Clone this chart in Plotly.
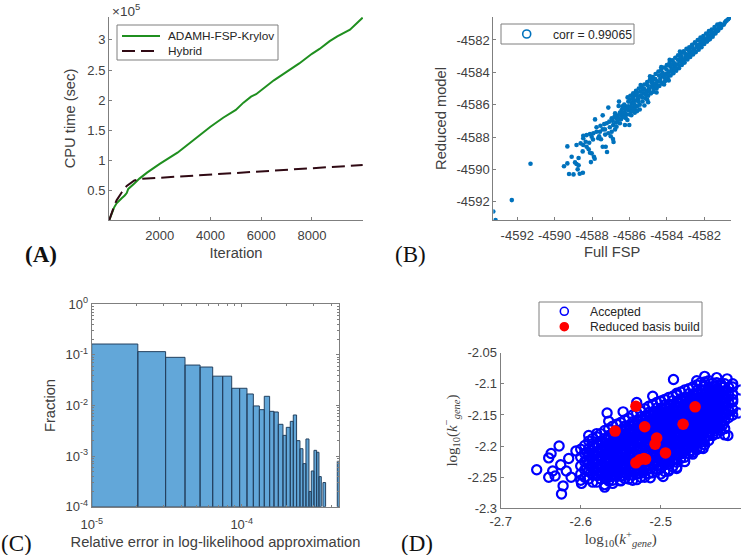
import plotly.graph_objects as go

W, H = 750, 555
# ---------- Panel A ----------
iter_green = [1, 60, 130, 200, 300, 400, 500, 620, 700, 760, 850, 1000, 1200, 1500, 2000, 2400, 2700, 3000, 3500, 4000, 4500, 5000, 5300, 5600, 5800, 6000, 6500, 7000, 7500, 8000, 8300, 8700, 9000, 9500, 10000]
cpu_green = [0.0, 0.07, 0.15, 0.22, 0.29, 0.34, 0.375, 0.42, 0.46, 0.53, 0.57, 0.62, 0.70, 0.80, 0.945, 1.05, 1.13, 1.23, 1.40, 1.56, 1.71, 1.84, 1.96, 2.06, 2.10, 2.17, 2.33, 2.47, 2.61, 2.77, 2.85, 2.98, 3.06, 3.17, 3.37]
iter_hybrid = [1, 80, 200, 300, 400, 500, 700, 1000, 1250, 2000, 3000, 4000, 5000, 6000, 7000, 8000, 9000, 10000]
cpu_hybrid = [0.0, 0.10, 0.24, 0.34, 0.41, 0.47, 0.58, 0.67, 0.695, 0.715, 0.74, 0.765, 0.79, 0.815, 0.84, 0.87, 0.895, 0.925]
a_xticks = [2000, 4000, 6000, 8000]
a_yticks = [0.5, 1, 1.5, 2, 2.5, 3]
a_yticklabels = ["0.5", "1", "1.5", "2", "2.5", "3"]

# ---------- Panel B ----------
fsp_reduced_pairs = [
 (-4593.28,-4592.6),(-4593.16,-4593.13),(-4592.29,-4591.9),(-4591.29,-4589.65),
 (-4589.32,-4588.58),(-4589.50,-4589.81),(-4589.32,-4589.63),(-4589.23,-4590.29),(-4588.99,-4590.31),(-4588.66,-4590.27),(-4588.49,-4590.21),
 (-4589.09,-4589.22),(-4588.91,-4589.57),(-4588.83,-4589.67),(-4588.72,-4589.75),(-4588.77,-4590.00),(-4588.72,-4589.30),(-4588.50,-4588.89),
 (-4588.47,-4588.49),(-4588.61,-4588.39),(-4588.83,-4588.49),(-4588.29,-4588.60),(-4588.15,-4588.35),(-4588.18,-4588.76),(-4588.11,-4588.97),
 (-4588.02,-4589.01),(-4588.06,-4589.55),(-4587.90,-4589.22),(-4587.86,-4589.34),(-4588.34,-4588.29),(-4588.47,-4587.92),(-4588.29,-4587.88),
 (-4588.11,-4587.81),(-4587.93,-4587.77),(-4587.76,-4587.67),(-4587.58,-4587.67),(-4587.43,-4587.53),(-4587.84,-4586.91),(-4587.43,-4586.66),
 (-4587.13,-4586.18),(-4586.56,-4585.81),(-4586.58,-4586.08),(-4587.52,-4588.14),(-4587.43,-4588.60),(-4587.27,-4588.60),(-4587.20,-4588.93),
 (-4586.88,-4588.12),(-4586.85,-4588.31),(-4587.13,-4587.77),(-4586.95,-4587.67),(-4587.31,-4587.53),(-4587.22,-4587.15),(-4587.08,-4587.05),
 (-4586.95,-4586.84),(-4586.77,-4586.54),(-4586.51,-4586.49),(-4586.42,-4586.33),(-4586.69,-4587.36),(-4586.51,-4587.15),(-4586.24,-4587.26),
 (-4586.01,-4587.26),(-4586.11,-4586.95),(-4586.33,-4586.74),(-4586.87,-4587.26),(-4586.60,-4586.84),(-4586.33,-4586.54),(-4586.06,-4586.33),
 (-4585.80,-4586.23),(-4585.88,-4585.92),(-4586.06,-4585.81),(-4585.62,-4586.12),(-4585.53,-4585.71),(-4585.80,-4585.50),(-4587.76,-4587.40),
 (-4588.02,-4587.98),(-4588.47,-4588.08),(-4587.67,-4588.08),(-4586.77,-4587.53),
 (-4585.9,-4586.4),(-4585.85,-4585.9),(-4585.95,-4585.45),(-4585.75,-4586.3),(-4585.7,-4585.75),(-4585.8,-4585.3),
 (-4585.6,-4586.1),(-4585.55,-4585.6),(-4585.65,-4585.15),(-4585.45,-4586.0),(-4585.4,-4585.45),(-4585.5,-4585.0),
 (-4585.3,-4585.8),(-4585.25,-4585.3),(-4585.35,-4584.85),(-4585.15,-4585.6),(-4585.1,-4585.15),(-4585.2,-4584.75),
 (-4585.0,-4585.45),(-4584.95,-4585.0),(-4585.05,-4584.6),(-4584.85,-4585.3),(-4584.8,-4584.85),(-4584.9,-4584.45),
 (-4584.7,-4585.2),(-4584.65,-4584.7),(-4584.75,-4584.3),(-4584.55,-4585.0),(-4584.5,-4584.55),(-4584.6,-4584.1),
 (-4584.4,-4584.85),(-4584.35,-4584.4),(-4584.45,-4583.95),(-4584.25,-4584.7),(-4584.2,-4584.25),(-4584.3,-4583.85),
 (-4584.1,-4584.55),(-4584.05,-4584.1),(-4584.15,-4583.7),(-4583.95,-4584.35),(-4583.9,-4583.95),(-4584.0,-4583.55),
 (-4583.8,-4584.2),(-4583.75,-4583.8),(-4583.85,-4583.4),(-4583.65,-4584.05),(-4583.6,-4583.65),(-4583.7,-4583.25),
 (-4583.5,-4583.9),(-4583.45,-4583.5),(-4583.55,-4583.1),(-4583.35,-4583.75),(-4583.3,-4583.35),(-4583.4,-4582.95),
 (-4583.2,-4583.55),(-4583.15,-4583.2),(-4583.25,-4582.85),(-4583.05,-4583.4),(-4583.0,-4583.05),(-4583.1,-4582.7),
 (-4582.9,-4583.2),(-4582.85,-4582.9),(-4582.95,-4582.55),(-4582.75,-4583.05),(-4582.7,-4582.75),(-4582.8,-4582.45),
 (-4582.6,-4582.9),(-4582.55,-4582.6),(-4582.65,-4582.3),(-4582.45,-4582.75),(-4582.4,-4582.45),(-4582.5,-4582.15),
 (-4582.3,-4582.6),(-4582.25,-4582.3),(-4582.35,-4582.0),(-4582.15,-4582.45),(-4582.1,-4582.15),(-4582.2,-4581.85),
 (-4582.0,-4582.25),(-4581.95,-4582.0),(-4582.05,-4581.75),(-4581.85,-4582.1),(-4581.8,-4581.85),(-4581.9,-4581.6),
 (-4581.7,-4581.95),(-4581.65,-4581.7),(-4581.75,-4581.45),(-4581.55,-4581.8),(-4581.5,-4581.55),(-4581.6,-4581.35),
 (-4581.4,-4581.6),(-4581.35,-4581.4),(-4581.45,-4581.2),(-4581.25,-4581.42),(-4581.2,-4581.25),(-4581.3,-4581.05),
 (-4581.1,-4581.25),(-4581.05,-4581.08),(-4581.15,-4581.0),(-4580.95,-4581.05),(-4580.9,-4580.92),(-4580.85,-4580.85),
 (-4580.8,-4580.8),(-4580.72,-4580.72),(-4580.65,-4580.62),
 # between the strands
 (-4585.92,-4586.15),(-4585.82,-4585.65),(-4585.72,-4586.02),(-4585.62,-4585.38),(-4585.52,-4585.82),(-4585.42,-4585.2),(-4585.32,-4585.55),(-4585.22,-4585.02),
 (-4585.12,-4585.38),(-4585.02,-4584.82),(-4584.92,-4585.18),(-4584.82,-4584.62),(-4584.72,-4584.98),(-4584.62,-4584.42),(-4584.52,-4584.78),(-4584.42,-4584.2),
 (-4584.32,-4584.6),(-4584.22,-4584.05),(-4584.12,-4584.32),(-4584.02,-4583.82),(-4583.92,-4584.15),(-4583.82,-4583.62),(-4583.72,-4583.98),(-4583.62,-4583.42),
 (-4583.52,-4583.72),(-4583.42,-4583.22),(-4583.32,-4583.58),(-4583.22,-4583.02),(-4583.12,-4583.38),(-4583.02,-4582.85),(-4582.92,-4583.08),(-4582.82,-4582.68),
 (-4582.72,-4582.92),(-4582.62,-4582.48),(-4582.52,-4582.72),(-4582.42,-4582.28),(-4582.32,-4582.48),(-4582.22,-4582.08),(-4582.12,-4582.3),(-4582.02,-4581.88),
 (-4581.92,-4582.08),(-4581.82,-4581.68),(-4581.72,-4581.85),(-4581.62,-4581.52),(-4581.52,-4581.65),(-4581.42,-4581.32),(-4581.32,-4581.45),(-4581.22,-4581.15),
 (-4581.78,-4581.98),(-4581.58,-4581.72),(-4582.28,-4582.42),(-4582.08,-4582.02),(-4582.78,-4582.62),(-4582.58,-4582.78),(-4583.28,-4583.12),(-4583.08,-4583.22),
 (-4583.78,-4583.55),(-4583.58,-4583.82),(-4584.28,-4584.12),(-4584.08,-4584.38),(-4584.78,-4584.52),(-4584.58,-4584.88),(-4585.28,-4585.08),(-4585.08,-4585.28),
 (-4585.78,-4585.95),(-4585.58,-4585.48),(-4586.2,-4586.1),(-4586.25,-4586.45),(-4586.15,-4586.6),(-4585.98,-4586.6),(-4586.4,-4586.7),(-4586.7,-4586.85),(-4586.3,-4586.2),
 (-4585.4,-4584.78),(-4584.9,-4584.25),(-4584.3,-4583.68),(-4583.85,-4583.22),(-4585.05,-4585.7),(-4584.55,-4585.25),(-4585.6,-4586.4),(-4583.3,-4582.72),(-4583.9,-4584.5),(-4584.15,-4584.75),
 # lower end of the band
 (-4586.9,-4587.0),(-4586.72,-4587.1),(-4586.65,-4586.7),(-4586.55,-4586.62),(-4586.45,-4586.9),(-4586.38,-4586.1),(-4586.28,-4586.0),(-4586.18,-4586.25),(-4586.2,-4586.82),(-4586.05,-4586.1),
 (-4585.98,-4585.7),(-4586.1,-4585.55),(-4585.9,-4586.65),(-4585.72,-4586.5),(-4585.6,-4585.25),(-4585.45,-4586.3),(-4585.3,-4585.0),(-4585.2,-4586.05),(-4585.0,-4585.85),(-4587.05,-4587.4),
 (-4587.3,-4587.85),(-4587.0,-4587.95),(-4587.55,-4587.3),(-4586.8,-4586.75),(-4586.62,-4586.95),(-4586.25,-4586.75),(-4587.62,-4587.95),(-4587.95,-4588.15),(-4587.35,-4587.2),
]
full_fsp = [p[0] for p in fsp_reduced_pairs]
reduced_model = [p[1] for p in fsp_reduced_pairs]
b_xticks = [-4592, -4590, -4588, -4586, -4584, -4582]
b_yticks = [-4592, -4590, -4588, -4586, -4584, -4582]
b_ticklabels = ["-4592", "-4590", "-4588", "-4586", "-4584", "-4582"]

# ---------- Panel C (bin edges in units of 1e-5) ----------
bin_left = [1.00, 2.03, 3.11, 4.19, 5.28, 6.41, 7.47, 8.58, 9.69, 10.85, 11.96, 13.12, 14.15, 15.36, 16.42, 17.55, 18.85, 19.84, 21.09, 22.09, 23.24, 24.47, 25.63, 26.83, 28.10, 29.12, 30.34, 31.61, 32.76, 34.83, 43.4]
bin_right = [2.03, 3.11, 4.19, 5.28, 6.41, 7.47, 8.58, 9.69, 10.85, 11.96, 13.12, 14.15, 15.36, 16.42, 17.55, 18.85, 19.84, 21.09, 22.09, 23.24, 24.47, 25.63, 26.83, 28.10, 29.12, 30.34, 31.61, 32.76, 33.95, 36.29, 44.8]
fraction = [0.164, 0.116, 0.0895, 0.063, 0.0576, 0.038, 0.038, 0.0219, 0.0219, 0.0169, 0.0098, 0.00827, 0.0152, 0.00767, 0.00744, 0.00425, 0.00257, 0.0037, 0.00486, 0.00649, 0.00202, 0.0014, 0.00071, 0.00218, 0.0002, 0.000508, 0.0013, 0.00119, 0.000393, 0.0003, 0.00079]
c_xticks = [1e-5, 1e-4]
c_xticklabels = ["10<sup>-5</sup>", "10<sup>-4</sup>"]
c_xminor = [2e-5, 3e-5, 4e-5, 5e-5, 6e-5, 7e-5, 8e-5, 9e-5, 2e-4, 3e-4, 4e-4]
c_yticks = [1, 0.1, 0.01, 0.001, 0.0001]
c_yticklabels = ["10<sup>0</sup>", "10<sup>-1</sup>", "10<sup>-2</sup>", "10<sup>-3</sup>", "10<sup>-4</sup>"]
c_yminor = [m * d for d in (0.0001, 0.001, 0.01, 0.1) for m in (2, 3, 4, 5, 6, 7, 8, 9)]

# ---------- Panel D ----------
accepted_rim = [(-2.655,-2.238),(-2.624,-2.277),(-2.622,-2.264),(-2.627,-2.2),(-2.637,-2.212),(-2.64,-2.219),(-2.635,-2.24),(-2.64,-2.25),(-2.632,-2.248),(-2.625,-2.23),(-2.618,-2.24),(-2.612,-2.25),(-2.615,-2.22),(-2.606,-2.208),
 (-2.484,-2.093),(-2.4,-2.11),(-2.417,-2.092),(-2.445,-2.088),(-2.567,-2.147),(-2.547,-2.145),(-2.403,-2.147),(-2.42,-2.182),(-2.447,-2.204),(-2.57,-2.266),(-2.599,-2.26),(-2.513,-2.251),(-2.497,-2.249),(-2.48,-2.236),(-2.43,-2.09),(-2.41,-2.1),(-2.41,-2.125),(-2.425,-2.1),(-2.416,-2.183),(-2.455,-2.095),(-2.59,-2.183),(-2.58,-2.18),(-2.565,-2.16),(-2.53,-2.13),(-2.51,-2.12),(-2.5,-2.128),(-2.48,-2.115),(-2.46,-2.21),(-2.47,-2.225),(-2.49,-2.24),(-2.535,-2.255),(-2.55,-2.255),(-2.56,-2.26),(-2.585,-2.258)]
accepted_columns = [
 (-2.600,[-2.205,-2.218,-2.232,-2.245,-2.255]),(-2.595,[-2.199,-2.212,-2.225,-2.238,-2.25]),
 (-2.590,[-2.192,-2.204,-2.216,-2.229,-2.241,-2.253]),(-2.585,[-2.188,-2.199,-2.211,-2.223,-2.235,-2.247]),
 (-2.580,[-2.185,-2.197,-2.21,-2.222,-2.235,-2.247,-2.258]),(-2.575,[-2.18,-2.192,-2.204,-2.216,-2.229,-2.241,-2.253]),
 (-2.570,[-2.175,-2.188,-2.2,-2.213,-2.225,-2.238,-2.25,-2.262]),(-2.565,[-2.172,-2.183,-2.195,-2.207,-2.219,-2.232,-2.244,-2.256]),
 (-2.560,[-2.168,-2.18,-2.192,-2.205,-2.217,-2.23,-2.242,-2.255]),(-2.555,[-2.165,-2.175,-2.186,-2.199,-2.211,-2.224,-2.236,-2.249]),
 (-2.550,[-2.162,-2.174,-2.186,-2.198,-2.21,-2.223,-2.235,-2.248,-2.256]),(-2.545,[-2.158,-2.168,-2.18,-2.192,-2.204,-2.217,-2.229,-2.242,-2.252]),
 (-2.540,[-2.155,-2.167,-2.179,-2.191,-2.203,-2.216,-2.228,-2.24,-2.253]),(-2.535,[-2.15,-2.161,-2.173,-2.185,-2.197,-2.21,-2.222,-2.234,-2.247]),
 (-2.530,[-2.147,-2.159,-2.171,-2.183,-2.195,-2.208,-2.22,-2.232,-2.245,-2.254]),(-2.525,[-2.144,-2.153,-2.165,-2.177,-2.189,-2.202,-2.214,-2.226,-2.239,-2.25]),
 (-2.520,[-2.14,-2.152,-2.164,-2.176,-2.188,-2.2,-2.213,-2.225,-2.237,-2.25]),(-2.515,[-2.136,-2.146,-2.158,-2.17,-2.182,-2.194,-2.207,-2.219,-2.231,-2.244]),
 (-2.510,[-2.133,-2.145,-2.157,-2.169,-2.181,-2.193,-2.205,-2.218,-2.23,-2.243]),(-2.505,[-2.13,-2.139,-2.151,-2.163,-2.175,-2.187,-2.199,-2.212,-2.224,-2.237]),
 (-2.500,[-2.128,-2.14,-2.152,-2.164,-2.176,-2.188,-2.2,-2.212,-2.224,-2.236,-2.245]),(-2.495,[-2.125,-2.134,-2.146,-2.158,-2.17,-2.182,-2.194,-2.206,-2.218,-2.23,-2.241]),
 (-2.490,[-2.122,-2.133,-2.145,-2.157,-2.169,-2.181,-2.193,-2.205,-2.217,-2.229,-2.238]),(-2.485,[-2.12,-2.127,-2.139,-2.151,-2.163,-2.175,-2.187,-2.199,-2.211,-2.223,-2.233]),
 (-2.480,[-2.118,-2.13,-2.142,-2.154,-2.166,-2.178,-2.19,-2.202,-2.214,-2.226,-2.234]),(-2.475,[-2.113,-2.124,-2.136,-2.148,-2.16,-2.172,-2.184,-2.196,-2.208,-2.22]),
 (-2.470,[-2.11,-2.122,-2.134,-2.146,-2.158,-2.17,-2.182,-2.194,-2.206,-2.218]),(-2.465,[-2.108,-2.116,-2.128,-2.14,-2.152,-2.164,-2.176,-2.188,-2.2,-2.212]),
 (-2.460,[-2.105,-2.117,-2.129,-2.141,-2.153,-2.165,-2.177,-2.189,-2.201,-2.213]),(-2.455,[-2.102,-2.111,-2.123,-2.135,-2.147,-2.159,-2.171,-2.183,-2.195,-2.206]),
 (-2.450,[-2.098,-2.11,-2.122,-2.134,-2.146,-2.158,-2.17,-2.182,-2.194,-2.203]),(-2.445,[-2.097,-2.104,-2.116,-2.128,-2.14,-2.152,-2.164,-2.176,-2.188,-2.198]),
 (-2.440,[-2.095,-2.107,-2.119,-2.131,-2.143,-2.155,-2.167,-2.179,-2.191]),(-2.435,[-2.099,-2.111,-2.123,-2.135,-2.147,-2.159,-2.171,-2.183]),
 (-2.430,[-2.098,-2.11,-2.122,-2.134,-2.146,-2.158,-2.17,-2.18]),(-2.425,[-2.103,-2.115,-2.127,-2.139,-2.151,-2.163,-2.175]),
 (-2.420,[-2.1,-2.112,-2.124,-2.136,-2.148,-2.16,-2.172]),(-2.415,[-2.106,-2.118,-2.13,-2.142,-2.154]),
 (-2.410,[-2.105,-2.117,-2.129,-2.141,-2.15]),
 # dense core
 (-2.5925,[-2.21,-2.223,-2.236]),(-2.5875,[-2.207,-2.219,-2.232,-2.243]),(-2.5825,[-2.203,-2.215,-2.228,-2.24]),(-2.5775,[-2.198,-2.21,-2.222,-2.235,-2.247]),
 (-2.5725,[-2.195,-2.207,-2.219,-2.232,-2.244]),(-2.5675,[-2.19,-2.202,-2.214,-2.227,-2.24,-2.252]),(-2.5625,[-2.187,-2.199,-2.211,-2.224,-2.236,-2.249]),(-2.5575,[-2.183,-2.195,-2.208,-2.22,-2.233,-2.245]),
 (-2.5525,[-2.18,-2.192,-2.204,-2.217,-2.229,-2.242]),(-2.5475,[-2.175,-2.187,-2.199,-2.211,-2.224,-2.236,-2.248]),(-2.5425,[-2.172,-2.184,-2.197,-2.209,-2.222,-2.234,-2.246]),(-2.5375,[-2.168,-2.18,-2.192,-2.204,-2.216,-2.229,-2.241]),
 (-2.5325,[-2.165,-2.177,-2.189,-2.201,-2.214,-2.226,-2.238]),(-2.5275,[-2.16,-2.171,-2.183,-2.195,-2.208,-2.22,-2.232,-2.244]),(-2.5225,[-2.158,-2.17,-2.182,-2.194,-2.206,-2.219,-2.231,-2.243]),(-2.5175,[-2.152,-2.164,-2.176,-2.188,-2.2,-2.213,-2.225,-2.238]),
 (-2.5125,[-2.151,-2.163,-2.175,-2.187,-2.199,-2.211,-2.224,-2.236]),(-2.5075,[-2.145,-2.157,-2.169,-2.181,-2.193,-2.205,-2.218,-2.23]),(-2.5025,[-2.146,-2.158,-2.17,-2.182,-2.194,-2.206,-2.218,-2.23]),(-2.4975,[-2.14,-2.152,-2.164,-2.176,-2.188,-2.2,-2.212,-2.224]),
 (-2.4925,[-2.139,-2.151,-2.163,-2.175,-2.187,-2.199,-2.211,-2.223]),(-2.4875,[-2.133,-2.145,-2.157,-2.169,-2.181,-2.193,-2.205,-2.217]),(-2.4825,[-2.136,-2.148,-2.16,-2.172,-2.184,-2.196,-2.208,-2.22]),(-2.4775,[-2.13,-2.142,-2.154,-2.166,-2.178,-2.19,-2.202,-2.214]),
 (-2.4725,[-2.128,-2.14,-2.152,-2.164,-2.176,-2.188,-2.2,-2.212]),(-2.4675,[-2.122,-2.134,-2.146,-2.158,-2.17,-2.182,-2.194,-2.206]),(-2.4625,[-2.123,-2.135,-2.147,-2.159,-2.171,-2.183,-2.195,-2.207]),(-2.4575,[-2.117,-2.129,-2.141,-2.153,-2.165,-2.177,-2.189,-2.2]),
 (-2.4525,[-2.116,-2.128,-2.14,-2.152,-2.164,-2.176,-2.188]),(-2.4475,[-2.11,-2.122,-2.134,-2.146,-2.158,-2.17,-2.182,-2.193]),(-2.4425,[-2.113,-2.125,-2.137,-2.149,-2.161,-2.173,-2.185]),(-2.4375,[-2.105,-2.117,-2.129,-2.141,-2.153,-2.165,-2.177]),
 (-2.4325,[-2.104,-2.116,-2.128,-2.14,-2.152,-2.164,-2.176]),(-2.4275,[-2.109,-2.121,-2.133,-2.145,-2.157,-2.169]),(-2.4225,[-2.106,-2.118,-2.13,-2.142,-2.154,-2.166]),(-2.4175,[-2.112,-2.124,-2.136,-2.148]),
 # centre of the cloud
 (-2.5685,[-2.196,-2.208,-2.22,-2.233,-2.246]),(-2.5585,[-2.189,-2.202,-2.214,-2.227,-2.239]),(-2.5485,[-2.181,-2.193,-2.205,-2.218,-2.23,-2.242]),(-2.5385,[-2.174,-2.186,-2.198,-2.21,-2.223,-2.235]),
 (-2.5285,[-2.166,-2.178,-2.19,-2.202,-2.214,-2.226,-2.238]),(-2.5185,[-2.158,-2.17,-2.182,-2.194,-2.206,-2.219,-2.231]),(-2.5085,[-2.151,-2.163,-2.175,-2.187,-2.199,-2.211,-2.224]),(-2.4985,[-2.146,-2.158,-2.17,-2.182,-2.194,-2.206,-2.218]),
 (-2.4885,[-2.139,-2.151,-2.163,-2.175,-2.187,-2.199,-2.211,-2.223]),(-2.4785,[-2.136,-2.148,-2.16,-2.172,-2.184,-2.196,-2.208]),(-2.4685,[-2.128,-2.14,-2.152,-2.164,-2.176,-2.188,-2.2]),(-2.4585,[-2.123,-2.135,-2.147,-2.159,-2.171,-2.183,-2.195]),
 (-2.4485,[-2.116,-2.128,-2.14,-2.152,-2.164,-2.176,-2.188]),(-2.4385,[-2.111,-2.123,-2.135,-2.147,-2.159,-2.171]),(-2.4285,[-2.115,-2.127,-2.139,-2.151,-2.163]),
]
k_plus = [p[0] for p in accepted_rim] + [c[0] for c in accepted_columns for _ in c[1]]
k_minus = [p[1] for p in accepted_rim] + [v for c in accepted_columns for v in c[1]]
basis_k_plus = [-2.531, -2.457, -2.472, -2.52, -2.557, -2.505, -2.507, -2.494, -2.521, -2.526, -2.531, -2.519]
basis_k_minus = [-2.136, -2.137, -2.165, -2.169, -2.176, -2.187, -2.197, -2.211, -2.22, -2.222, -2.227, -2.221]
d_xticks = [-2.7, -2.6, -2.5, -2.4]
d_xticklabels = ["-2.7", "-2.6", "-2.5", "-2.4"]
d_yticks = [-2.3, -2.25, -2.2, -2.15, -2.1, -2.05]
d_yticklabels = ["-2.3", "-2.25", "-2.2", "-2.15", "-2.1", "-2.05"]

# ---------- helpers ----------
GREY = "#7f7f7f"
TXT = "#404040"
SANS = "Liberation Sans, Arial, sans-serif"
SERIF = "Liberation Serif, serif"
def dx(a, b): return [a / W, b / W]
def dy(t, b): return [1 - b / H, 1 - t / H]
def px(v): return v / W
def py(v): return 1 - v / H

def ax(domain, title, standoff, family=SANS, size=14.7, **kw):
    base = dict(domain=domain, showgrid=False, zeroline=False, showline=True, linecolor=GREY, linewidth=1,
                ticks="inside", ticklen=3, tickcolor=GREY, tickwidth=1,
                tickfont=dict(family=SANS, size=13, color=TXT),
                title=dict(text=title, standoff=standoff, font=dict(family=family, size=size, color=TXT)),
                automargin=False)
    base.update(kw)
    return base

fig = go.Figure()
# A
fig.add_trace(go.Scatter(x=iter_green, y=cpu_green, mode="lines", name="ADAMH-FSP-Krylov", showlegend=False, line=dict(color="#1f8f1f", width=2), xaxis="x", yaxis="y"))
fig.add_trace(go.Scatter(x=iter_hybrid, y=cpu_hybrid, mode="lines", name="Hybrid", showlegend=False, line=dict(color="#300a14", width=2, dash="13px,6px"), xaxis="x", yaxis="y"))
# B
fig.add_trace(go.Scatter(x=full_fsp, y=reduced_model, mode="markers", name="corr = 0.99065", showlegend=False, marker=dict(color="#0072bd", size=4.6), xaxis="x2", yaxis="y2"))
# C
poly_x, poly_y = [], []
for l, r, f in zip(bin_left, bin_right, fraction):
    poly_x += [l * 1e-5, l * 1e-5, r * 1e-5, r * 1e-5, l * 1e-5, None]
    poly_y += [1e-4, f, f, 1e-4, 1e-4, None]
fig.add_trace(go.Scatter(x=poly_x, y=poly_y, mode="lines", fill="toself", fillcolor="#62a7d9", showlegend=False, line=dict(color="#24415f", width=1), xaxis="x3", yaxis="y3"))
# D
fig.add_trace(go.Scatter(x=k_plus, y=k_minus, mode="markers", name="Accepted", showlegend=False, marker=dict(symbol="circle-open", color="#0000ff", size=9.2, line=dict(width=2.2)), xaxis="x4", yaxis="y4"))
fig.add_trace(go.Scatter(x=basis_k_plus, y=basis_k_minus, mode="markers", name="Reduced basis build", showlegend=False, marker=dict(color="#ff0000", size=11.5), xaxis="x4", yaxis="y4"))

# legends: box, key and text placed to match the reference's compact row spacing
def box(x0, y0, x1, y1):
    return dict(type="rect", xref="paper", yref="paper", x0=px(x0), x1=px(x1), y0=py(y1), y1=py(y0), line=dict(color=GREY, width=1), fillcolor="white", layer="above")
def key_line(x0, x1, y, color, dash="solid"):
    return dict(type="line", xref="paper", yref="paper", x0=px(x0), x1=px(x1), y0=py(y), y1=py(y), line=dict(color=color, width=2, dash=dash), layer="above")
def key_dot(cx, cy, r, line, fill):
    return dict(type="circle", xref="paper", yref="paper", x0=px(cx - r), x1=px(cx + r), y0=py(cy + r), y1=py(cy - r), line=dict(color=line, width=1.6), fillcolor=fill, layer="above")
def label(text, x, y, size=12, color="#262626", family=SANS, anchor="left"):
    return dict(text=text, x=px(x), y=py(y), xref="paper", yref="paper", xanchor=anchor, yanchor="middle", showarrow=False, font=dict(family=family, size=size, color=color))

shapes = [
    box(117, 25, 278, 60), key_line(122, 160, 36, "#1f8f1f"), key_line(122, 160, 51, "#300a14", "13px,6px"),
    box(501, 24, 634, 44), key_dot(526.7, 34, 4, "#0072bd", "rgba(0,0,0,0)"),
    box(539, 302, 702, 336), key_dot(564.3, 311.3, 4, "#0000ff", "rgba(0,0,0,0)"), key_dot(564.3, 326.7, 4, "#ff0000", "#ff0000"),
]
annotations = [
    label("ADAMH-FSP-Krylov", 166, 36, 11.8), label("Hybrid", 166, 51, 11.8),
    label("corr = 0.99065", 550.5, 35, 12.2),
    label("Accepted", 588.3, 312, 12.2), label("Reduced basis build", 588.3, 327, 12.2),
    label("<b>(A)</b>", 41, 255, 23, "#111111", SERIF, "center"),
    label("(B)", 410, 254, 23, "#111111", SERIF, "center"),
    label("(C)", 16, 543, 23, "#111111", SERIF, "center"),
    label("(D)", 417, 543, 23, "#111111", SERIF, "center"),
    label("×10<sup>5</sup>", 110, 10, 13.5, TXT),
]

fig.update_layout(
    width=W, height=H, margin=dict(l=0, r=0, t=0, b=0), paper_bgcolor="white", plot_bgcolor="white", showlegend=False,
    xaxis=ax(dx(109, 363), "Iteration", 6, anchor="y", range=[1, 10013], tickvals=a_xticks, ticklabelstandoff=3),
    yaxis=ax(dy(17, 220), "CPU time (sec)", 8, anchor="x", range=[0.014, 3.38], tickvals=a_yticks, ticktext=a_yticklabels),
    xaxis2=ax(dx(493.3, 731), "Full FSP", 5, anchor="y2", range=[-4593.28, -4580.57], tickvals=b_xticks, ticktext=b_ticklabels, ticklabelstandoff=3),
    yaxis2=ax(dy(17, 220), "Reduced model", 6, anchor="x2", range=[-4593.13, -4580.58], tickvals=b_yticks, ticktext=b_ticklabels),
    xaxis3=ax(dx(91.7, 339.3), "Relative error in log-likelihood approximation", 5, anchor="y3", type="log", range=[-5, -3.349], tickvals=c_xticks, ticktext=c_xticklabels, mirror="ticks", ticklabelstandoff=6,
              minor=dict(ticks="inside", ticklen=2, tickcolor=GREY, tickvals=c_xminor)),
    yaxis3=ax(dy(304.3, 506.7), "Fraction", 6, anchor="x3", type="log", range=[-4, 0], tickvals=c_yticks, ticktext=c_yticklabels, mirror="ticks",
              minor=dict(ticks="inside", ticklen=2, tickcolor=GREY, tickvals=c_yminor)),
    xaxis4=ax(dx(500.7, 740.7), "log<sub>10</sub>(<i>k</i><sup>+</sup><sub><i>gene</i></sub>)", 0, family=SERIF, size=15, anchor="y4", range=[-2.7, -2.4], tickvals=d_xticks, ticktext=d_xticklabels, ticklabelstandoff=1),
    yaxis4=ax(dy(352.7, 508.3), "log<sub>10</sub>(<i>k</i><sup>−</sup><sub><i>gene</i></sub>)", 6, family=SERIF, size=15, anchor="x4", range=[-2.3, -2.05], tickvals=d_yticks, ticktext=d_yticklabels),
    shapes=shapes,
    annotations=annotations,
)
fig.write_html("out.html", post_script="document.body.style.margin='0';", config=dict(displayModeBar=False))
